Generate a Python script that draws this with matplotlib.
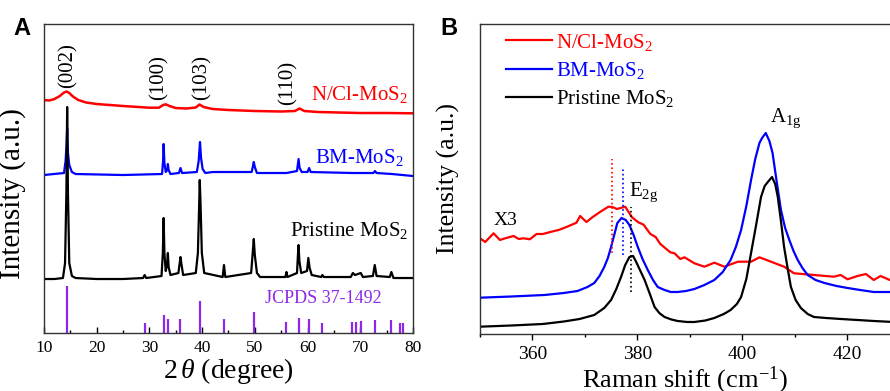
"""XRD patterns (A) and Raman spectra (B) of pristine, BM- and N/Cl-MoS2."""
import matplotlib
matplotlib.use("Agg")
import matplotlib.pyplot as plt
from matplotlib.lines import Line2D
from matplotlib.ticker import MultipleLocator

plt.rcParams["font.family"] = ["Liberation Serif", "DejaVu Serif"]
plt.rcParams["mathtext.fontset"] = "custom"
plt.rcParams["mathtext.rm"] = "Liberation Serif"
plt.rcParams["mathtext.it"] = "Liberation Serif:italic"
plt.rcParams["mathtext.default"] = "regular"

RED, BLUE, BLACK, PURPLE = "#ff0000", "#0000ff", "#000000", "#8c28e6"

# ---- panel A: XRD (offset intensities, a.u.) ----
xrd_pristine_x = [10, 12, 13.6, 14.0, 14.25, 14.4, 14.55, 14.8, 15.3, 16, 20, 25,
                  28.8, 29.1, 29.4, 32.3, 32.55, 32.7, 32.85, 33.1, 33.35, 33.5, 33.65,
                  34.0, 35.5, 35.8, 35.9, 36.05, 36.4, 38.8, 39.2, 39.45, 39.55, 39.7,
                  39.95, 40.4, 43.9, 44.15, 44.4, 49.3, 49.6, 49.8, 50.0, 50.4, 51,
                  55.8, 56.0, 56.2, 58.0, 58.2, 58.3, 58.45, 58.8, 59.9, 60.15, 60.4,
                  60.8, 62.6, 62.8, 63.1, 68.2, 68.6, 69.0, 70.1, 70.5, 72.4, 72.75,
                  73.1, 75.6, 75.9, 76.3, 80]
xrd_pristine_y = [54, 54, 55, 70, 140, 226, 140, 70, 57, 55, 54, 54,
                  55, 58, 55, 57, 80, 115, 80, 62, 68, 80, 66,
                  58, 60, 72, 76, 70, 58, 60, 80, 130, 153, 130,
                  80, 60, 56, 68, 56, 60, 80, 94, 78, 60, 56,
                  56, 61, 56, 60, 80, 88, 72, 60, 62, 75, 65,
                  58, 56, 58, 56, 56, 60, 58, 60, 56, 57, 68,
                  57, 56, 61, 55, 55]

xrd_bm_x = [10, 13.8, 14.1, 14.3, 14.4, 14.55, 14.8, 15.3, 16, 25, 32.4, 32.6, 32.7,
            32.85, 33.1, 33.4, 33.5, 33.65, 34, 35.6, 35.9, 36.2, 39.0, 39.35, 39.6,
            39.8, 40.1, 40.6, 42, 44.2, 49.4, 49.7, 49.8, 50.0, 50.4, 56, 58.0, 58.3,
            58.5, 58.9, 60.0, 60.3, 60.6, 68.6, 72.5, 72.8, 73.1, 76, 80]
xrd_bm_y = [158, 160, 172, 190, 205, 180, 168, 161, 159, 158, 159, 172, 189,
            170, 161, 163, 169, 163, 159, 160, 165, 160, 161, 172, 191,
            175, 164, 160, 161, 161, 161, 168, 171, 166, 160, 160, 162, 174,
            165, 161, 161, 165, 161, 160, 160, 162, 160, 159, 157]

xrd_ncl_x = [10, 11, 12, 13, 13.8, 14.3, 14.8, 15.5, 16.5, 18, 20, 22.5, 25, 28, 30,
             31.8, 32.6, 33.1, 33.8, 35, 37, 38.8, 39.5, 40.3, 42, 45, 50, 55, 57.6,
             58.5, 59.4, 62, 66, 70, 75, 80]
xrd_ncl_y = [233, 232.5, 234, 237, 240.5, 241.5, 240, 236.5, 233, 230.5, 229, 228,
             227, 226, 225.3, 225.3, 228, 228.7, 227, 225, 224.5, 225.5, 228.5, 226,
             224, 223, 222, 221.5, 222, 224.5, 222, 221, 220.5, 220, 220, 219.7]

jcpds_pos = [14.4, 29.1, 32.7, 33.5, 35.9, 39.6, 44.2, 49.8, 56.0, 58.3, 60.2, 62.8,
             68.5, 69.1, 70.1, 72.8, 75.9, 77.6, 78.2]
jcpds_h = [47, 10, 18, 14, 14, 32, 14, 21, 11, 15, 14, 10, 11, 11, 12, 13, 13, 10, 10]

hkl_labels = ["(002)", "(100)", "(103)", "(110)"]
hkl_pos = [14.55, 31.8, 40.0, 56.3]
hkl_y = [245, 233, 233, 228]

# ---- panel B: Raman (N/Cl-MoS2 magnified x3) ----
raman_pristine_x = [350, 356, 362, 366, 369, 371.8, 373.7, 375.0, 376.0, 376.9, 377.7,
                    378.5, 379.2, 379.8, 380.6, 381.4, 382.4, 383.3, 384.2, 385.2,
                    386.5, 387.7, 389.5, 390.9, 393, 394.7, 396.5, 397.8, 399.0, 399.8,
                    400.8, 401.7, 402.7, 403.6, 404.3, 404.9, 405.7, 406.3, 406.8,
                    407.4, 408.0, 408.7, 409.3, 410.2, 411.2, 412.5, 413.7, 416, 418.8,
                    422, 425.1, 428.9]
raman_pristine_y = [7.3, 8.5, 10, 12.5, 15, 19, 26, 34, 45, 57, 69,
                    77, 78, 72, 63, 54, 40, 27, 21, 17,
                    14.5, 13, 12, 12, 13.5, 16, 20, 24, 30, 37,
                    55, 81, 110, 137, 148, 152, 157, 150, 137,
                    113, 87, 65, 47, 34, 26, 20, 17, 16, 15,
                    14, 13, 12]

raman_bm_x = [350, 356, 362.3, 366, 368.6, 370.5, 371.8, 372.8, 373.7, 374.4, 375.0,
              375.6, 376.2, 377.0, 377.8, 378.5, 379.3, 380.1, 381.0, 382.0, 383.0,
              383.9, 385.2, 386.4, 387.7, 389.3, 390.9, 392.8, 394.7, 396.3, 397.8,
              398.8, 399.8, 400.8, 401.7, 402.5, 403.3, 403.8, 404.5, 405.2, 405.8,
              406.6, 407.4, 408.2, 409.0, 409.8, 410.6, 411.5, 412.5, 414, 415.7, 418,
              420.1, 422.5, 425.1, 428.9]
raman_bm_y = [36.3, 37.5, 39, 41, 43, 47, 51, 58, 67, 76, 87,
              99, 111, 116, 114, 109, 99, 87, 75, 64, 54,
              47, 44, 42, 42, 43, 45, 49, 54, 62, 74,
              87, 104, 128, 154, 175, 191, 196, 201, 193, 181,
              152, 124, 106, 94, 83, 74, 66, 59, 54, 51, 48,
              46, 44, 42, 42]

raman_ncl_x = [350, 351, 352.6, 353.8, 355, 356.4, 357.4, 358.3, 359.5, 360.8, 362,
               363.4, 365, 366.5, 368.4, 369.1, 370.3, 371.5, 372.9, 374.5, 375.3,
               376.1, 377.7, 379.0, 380.2, 381.2, 382.5, 383.5, 384.4, 386.3, 387.1,
               388.2, 389.0, 390.9, 392.8, 394.7, 396.6, 398, 399.2, 401.7, 403.3,
               405.5, 408.0, 409.9, 411.5, 413.7, 417.5, 418.8, 420.1, 422, 423.6,
               425.1, 426.4, 428.9]
raman_ncl_y = [95.7, 92, 100.7, 94, 96, 98, 95, 95.7, 94.7, 100, 100,
               102, 104, 107, 111.3, 118, 112, 117, 122, 127.3, 127,
               125, 127.3, 116.7, 111.7, 109.3, 100, 97, 90, 81.7, 80.7,
               75, 76.7, 70.7, 67.3, 71.3, 67.3, 70, 72.3, 72.3, 76.7,
               72.3, 67.3, 60.7, 60, 59, 57.3, 59, 54.7, 58, 60,
               54, 58, 52.3]

e2g_pos = [375.1, 377.2, 378.8]
e2g_lo = [80.7, 79, 42.3]
e2g_hi = [175, 166.7, 127.3]
e2g_colors = [RED, BLUE, BLACK]

fig = plt.figure(figsize=(8.9, 3.91), dpi=100)
axA = fig.add_axes([0.0494, 0.1483, 0.4146, 0.7903])
axB = fig.add_axes([0.5393, 0.1458, 0.4607, 0.7928])

# ---- A ----
axA.plot(xrd_ncl_x, xrd_ncl_y, color=RED, lw=1.8)
axA.plot(xrd_bm_x, xrd_bm_y, color=BLUE, lw=1.6)
axA.plot(xrd_pristine_x, xrd_pristine_y, color=BLACK, lw=1.6)
axA.vlines(jcpds_pos, 0, jcpds_h, color=PURPLE, lw=1.6)
axA.set_xlim(10, 80)
axA.set_ylim(0, 309)
axA.set_yticks([])
axA.xaxis.set_major_locator(MultipleLocator(10))
axA.xaxis.set_minor_locator(MultipleLocator(5))
axA.tick_params(axis="x", which="major", direction="in", length=4, width=1,
                labelsize=12.5, pad=5)
axA.tick_params(axis="x", which="minor", direction="in", length=2, width=1)
axA.set_xlabel(r"2$\,\mathit{\theta}$ (degree)", fontsize=20, labelpad=0)
axA.set_ylabel("Intensity (a.u.)", fontsize=21)
axA.yaxis.set_label_coords(-0.05, 0.45)

for lab, xp, yp in zip(hkl_labels, hkl_pos, hkl_y):
    axA.text(xp, yp, lab, rotation=90, ha="center", va="bottom", fontsize=15)
axA.text(79.1, 233, "N/Cl-MoS$_2$", color=RED, ha="right", va="baseline", fontsize=15)
axA.text(78.2, 169.7, "BM-MoS$_2$", color=BLUE, ha="right", va="baseline", fontsize=15)
axA.text(79.1, 97.3, "Pristine MoS$_2$", color=BLACK, ha="right", va="baseline",
         fontsize=15)
axA.text(51.9, 30.3, "JCPDS 37-1492", color=PURPLE, ha="left", va="baseline",
         fontsize=13)

# ---- B ----
axB.plot(raman_ncl_x, raman_ncl_y, color=RED, lw=1.6)
axB.plot(raman_bm_x, raman_bm_y, color=BLUE, lw=1.6)
axB.plot(raman_pristine_x, raman_pristine_y, color=BLACK, lw=1.6)
for xp, lo, hi, c in zip(e2g_pos, e2g_lo, e2g_hi, e2g_colors):
    axB.vlines(xp, lo, hi, color=c, lw=1.2, linestyles=":")
axB.set_xlim(350, 428.2)
axB.set_ylim(0, 310)
axB.set_yticks([])
axB.spines["right"].set_visible(False)
axB.xaxis.set_major_locator(MultipleLocator(20))
axB.xaxis.set_minor_locator(MultipleLocator(10))
axB.tick_params(axis="x", which="major", direction="out", length=4, width=1,
                labelsize=14, pad=5)
axB.tick_params(axis="x", which="minor", direction="out", length=2.5, width=1)
axB.set_xlabel("Raman shift (cm$^{-1}$)", fontsize=19, labelpad=1)
axB.set_ylabel("Intensity (a.u.)", fontsize=18.5)
axB.yaxis.set_label_coords(-0.048, 0.5)

axB.text(352.5, 109, "X3", fontsize=14, va="baseline")
axB.text(378.5, 138, "E$_{2g}$", fontsize=15, va="baseline")
axB.text(405.3, 212.3, "A$_{1g}$", fontsize=15, va="baseline")

handles = [Line2D([], [], color=c, lw=1.6) for c in (RED, BLUE, BLACK)]
axB.legend(handles, ["N/Cl-MoS$_2$", "BM-MoS$_2$", "Pristine MoS$_2$"],
           loc="upper left", bbox_to_anchor=(0.063, 0.975), frameon=False,
           fontsize=15, handlelength=2.2, handletextpad=0.2, labelspacing=0.35,
           borderpad=0, borderaxespad=0, labelcolor="linecolor")

for ax in (axA, axB):
    for sp in ax.spines.values():
        sp.set_color("#333333")
        sp.set_linewidth(1)

fig.text(13 / 890, 1 - 35 / 391, "A", family="Liberation Sans", weight="bold",
         fontsize=17, va="baseline")
fig.text(440 / 890, 1 - 35 / 391, "B", family="Liberation Sans", weight="bold",
         fontsize=17, va="baseline")

fig.savefig("out.png", dpi=100)
